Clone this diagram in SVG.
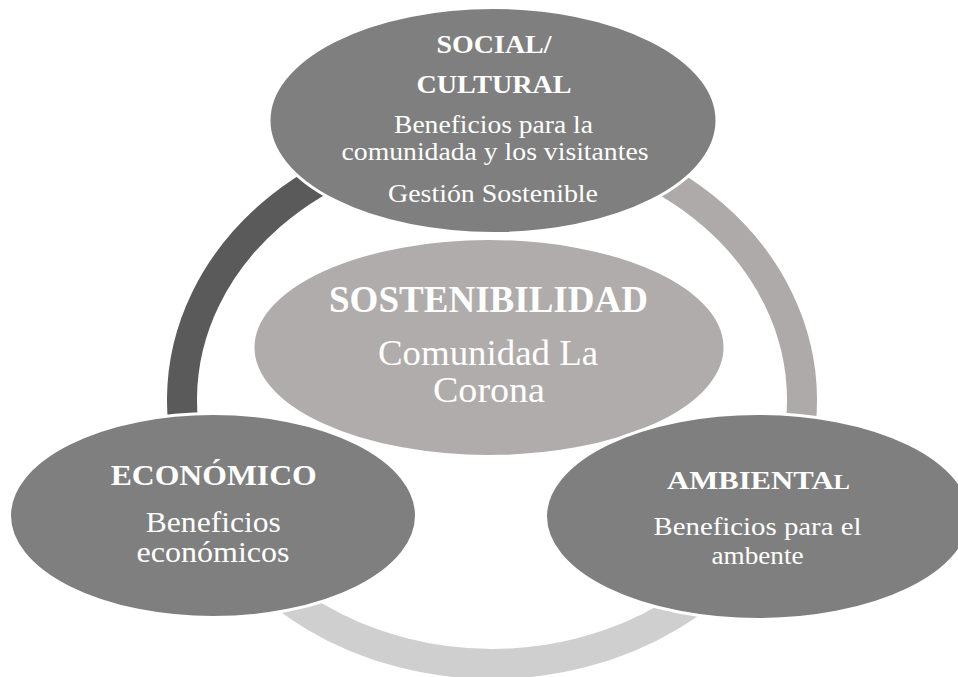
<svg xmlns="http://www.w3.org/2000/svg" width="958" height="677" viewBox="0 0 958 677">
<style>
.arc{fill:none;stroke-width:30;stroke-linecap:butt}
.node{fill:#7f7f7f;stroke:#ffffff;stroke-width:3}
.core{fill:#afacab;stroke:#ffffff;stroke-width:3}
text{font-family:"Liberation Serif","Times New Roman",serif;fill:#ffffff;text-anchor:middle}
.b{font-weight:bold}
</style>
<rect width="958" height="677" fill="#ffffff"/>
<g id="connectors">
<path class="arc" stroke="#d0cfd0" d="M 783.3 490.3 A 310 264 0 0 1 200.7 490.3"/>
<path class="arc" stroke="#adaaa9" d="M 623 160.7 A 310 264 0 0 1 783.3 490.3"/>
<path class="arc" stroke="#5a5a5a" d="M 200.7 490.3 A 310 264 0 0 1 361 160.7"/>
</g>
<g id="sostenibilidad">
<ellipse class="core" cx="489" cy="347.5" rx="236" ry="109"/>
<text class="b" x="488.5" y="312" font-size="37" textLength="319" lengthAdjust="spacingAndGlyphs">SOSTENIBILIDAD</text>
<text x="488" y="365" font-size="35" textLength="220" lengthAdjust="spacingAndGlyphs">Comunidad La</text>
<text x="489" y="402" font-size="35" textLength="112" lengthAdjust="spacingAndGlyphs">Corona</text>
</g>
<g id="social">
<ellipse class="node" cx="493" cy="120.5" rx="224" ry="113"/>
<text class="b" x="494" y="53" font-size="25" textLength="115" lengthAdjust="spacingAndGlyphs">SOCIAL/</text>
<text class="b" x="494" y="93" font-size="25" textLength="155" lengthAdjust="spacingAndGlyphs">CULTURAL</text>
<text x="493.5" y="133" font-size="25" textLength="199" lengthAdjust="spacingAndGlyphs">Beneficios para la</text>
<text x="495" y="160" font-size="25" textLength="307" lengthAdjust="spacingAndGlyphs">comunidada y los visitantes</text>
<text x="493" y="202" font-size="25" textLength="210" lengthAdjust="spacingAndGlyphs">Gestión Sostenible</text>
</g>
<g id="economico">
<ellipse class="node" cx="213" cy="515.5" rx="203.5" ry="102"/>
<text class="b" x="213.7" y="485" font-size="30" textLength="206" lengthAdjust="spacingAndGlyphs">ECONÓMICO</text>
<text x="213.3" y="532" font-size="29" textLength="135" lengthAdjust="spacingAndGlyphs">Beneficios</text>
<text x="213" y="562" font-size="29" textLength="153" lengthAdjust="spacingAndGlyphs">económicos</text>
</g>
<g id="ambiental">
<ellipse class="node" cx="758" cy="516.5" rx="212.5" ry="103"/>
<text class="b" x="758.5" y="489" font-size="25" textLength="183" lengthAdjust="spacingAndGlyphs">AMBIENTA<tspan font-size="20">L</tspan></text>
<text x="757.5" y="535" font-size="26" textLength="208" lengthAdjust="spacingAndGlyphs">Beneficios para el</text>
<text x="757.5" y="564" font-size="26" textLength="92" lengthAdjust="spacingAndGlyphs">ambente</text>
</g>
</svg>
